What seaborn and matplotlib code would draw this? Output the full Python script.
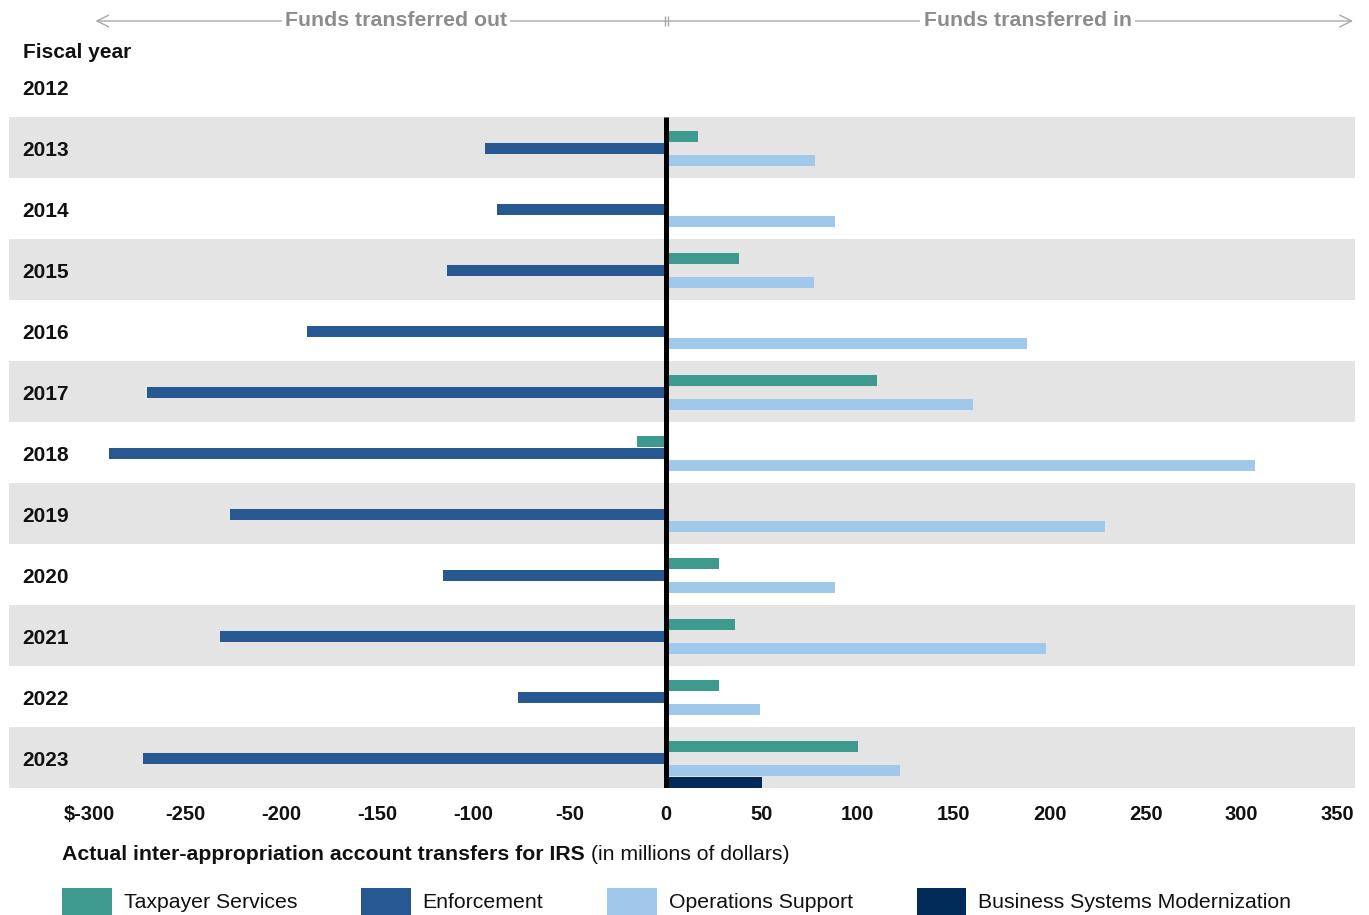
import numpy as np
import pandas as pd
import matplotlib
matplotlib.use('Agg')
import matplotlib.pyplot as plt
import matplotlib.transforms as mtransforms
import seaborn as sns

# Data (millions of dollars)
years = ['2012', '2013', '2014', '2015', '2016', '2017',
         '2018', '2019', '2020', '2021', '2022', '2023']
taxpayer_services = [np.nan, 17, np.nan, 38, np.nan, 110, -15, np.nan, 28, 36, 28, 100]
enforcement = [np.nan, -94, -88, -114, -187, -270, -290, -227, -116, -232, -77, -272]
operations_support = [np.nan, 78, 88, 77, 188, 160, 307, 229, 88, 198, 49, 122]
business_systems = [np.nan, np.nan, np.nan, np.nan, np.nan, np.nan,
                    np.nan, np.nan, np.nan, np.nan, np.nan, 50]

accounts = ['Taxpayer Services', 'Enforcement', 'Operations Support',
            'Business Systems Modernization']
colors = ['#3e998f', '#275892', '#9fc8ea', '#002a57']

xticks = [-300, -250, -200, -150, -100, -50, 0, 50, 100, 150, 200, 250, 300, 350]
xtick_labels = ['$-300', '-250', '-200', '-150', '-100', '-50', '0',
                '50', '100', '150', '200', '250', '300', '350']

# Long form table for seaborn
frames = []
for name, vals in zip(accounts, [taxpayer_services, enforcement,
                                 operations_support, business_systems]):
    frames.append(pd.DataFrame({'year': years, 'account': name, 'amount': vals}))
df = pd.concat(frames).dropna()

sns.set_theme(style='white')
plt.rcParams['font.family'] = ['Liberation Sans', 'DejaVu Sans']

W, H = 1369, 915
fig = plt.figure(figsize=(W / 100, H / 100), dpi=100)
ax = fig.add_axes([9 / W, 1 - 788 / H, (1355 - 9) / W, (788 - 56) / H])

shift = 0.115  # bar group sits low in each row
sns.barplot(data=df, y='year', x='amount', hue='account', order=years,
            hue_order=accounts, palette=colors, orient='h', width=0.77,
            gap=0.06, dodge=True, errorbar=None, saturation=1,
            legend=False, ax=ax, zorder=2, linewidth=0)

# alternating row bands
for i in range(1, len(years), 2):
    ax.axhspan(i - 0.5 - shift, i + 0.5 - shift, color='#e4e4e4', lw=0, zorder=0)

ax.set_ylim(len(years) - 0.5 - shift, -0.5 - shift)
ax.set_xlim(-342, 359)

# zero line
ax.vlines(0, 1 - 0.5 - shift, len(years) - 0.5 - shift, color='black', lw=3.6, zorder=3)

# y labels inside the plot on the left
ax.set_yticks(np.arange(len(years)) - shift + 0.015)
ax.set_yticklabels(years, ha='left', fontweight='bold', fontsize=15, color='#111111')
ax.tick_params(axis='y', length=0, pad=-13 * 0.72)

ax.set_xticks(xticks)
ax.set_xticklabels(xtick_labels, fontweight='bold', fontsize=14.5, color='#111111')
ax.tick_params(axis='x', length=0, pad=12.5)

ax.set_xlabel('')
ax.set_ylabel('')
for s in ax.spines.values():
    s.set_visible(False)

# header with arrows
yh = 1 - 21 / H
gray_line = '#a8a8a8'
gray_text = '#8c8c8c'
ax.annotate('', xy=(-297, yh), xytext=(358, yh),
            xycoords=('data', 'figure fraction'), textcoords=('data', 'figure fraction'),
            arrowprops=dict(arrowstyle='<->, head_length=0.7, head_width=0.35',
                            color=gray_line, lw=1, shrinkA=0, shrinkB=0))
blend = mtransforms.blended_transform_factory(ax.transData, fig.transFigure)
ax.text(-140.4, yh, 'Funds transferred out', transform=blend, ha='center', va='center',
        fontsize=15.3, fontweight='bold', color=gray_text,
        bbox=dict(fc='white', ec='none', pad=2))
ax.text(188.5, yh, 'Funds transferred in', transform=blend, ha='center', va='center',
        fontsize=15.3, fontweight='bold', color=gray_text,
        bbox=dict(fc='white', ec='none', pad=2.5))
ax.plot([-0.6, 1.4], [yh, yh], transform=blend, ls='none', marker='|', ms=7,
        mew=1, color=gray_line, clip_on=False)

fig.text(23 / W, 1 - 53 / H, 'Fiscal year', fontsize=15, fontweight='bold',
         va='center', ha='left', color='#111111')

# x axis title, bold + regular
t1 = fig.text(62 / W, 1 - 855 / H, 'Actual inter-appropriation account transfers for IRS',
              fontsize=15.3, fontweight='bold', va='center', ha='left', color='#111111')
ax.annotate(' (in millions of dollars)', xy=(1, 0), xycoords=t1, va='bottom', ha='left',
            fontsize=15.3, color='#111111')

# legend
handles = [plt.Rectangle((0, 0), 1, 1, fc=c, ec='none') for c in colors]
fig.legend(handles, accounts, loc='lower left', bbox_to_anchor=(62 / W, 0.5 / H),
           ncol=4, frameon=False, fontsize=15.3, handlelength=2.35, handleheight=1.55,
           handletextpad=0.55, columnspacing=3.0, borderpad=0, borderaxespad=0,
           labelcolor='#111111')

fig.savefig('out.png', dpi=100)
